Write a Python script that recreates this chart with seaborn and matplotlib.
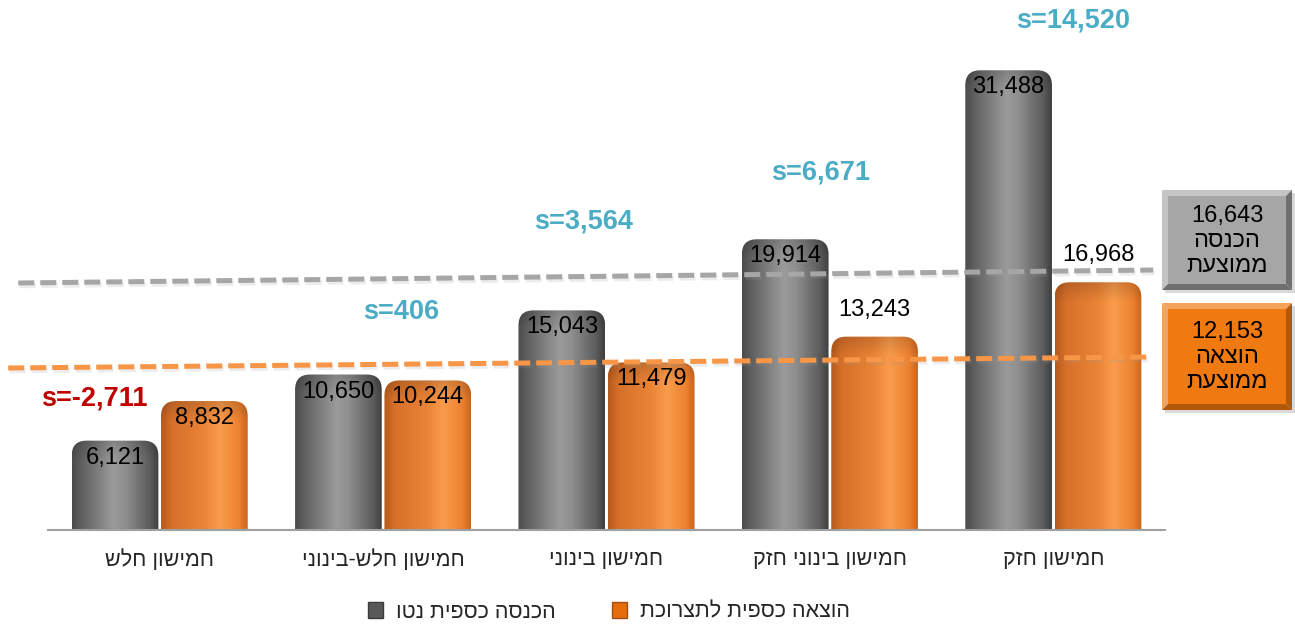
import numpy as np
import pandas as pd
import matplotlib
matplotlib.use('Agg')
import matplotlib.pyplot as plt
import seaborn as sns
from matplotlib.path import Path
from matplotlib.patches import PathPatch, Rectangle, Polygon, Patch
from matplotlib.colors import LinearSegmentedColormap
import matplotlib.patheffects as pe

# data
groups = ['חמישון חלש', 'חמישון חלש-בינוני', 'חמישון בינוני', 'חמישון בינוני חזק', 'חמישון חזק']
income = [6121, 10650, 15043, 19914, 31488]
spending = [8832, 10244, 11479, 13243, 16968]
series = ['הכנסה כספית נטו', 'הוצאה כספית לתצרוכת']
avg_income_text = ['הכנסה', 'ממוצעת']
avg_spend_text = ['הוצאה', 'ממוצעת']

# label placement (style only)
gap_label_x = [-0.294, 1.080, 1.895, 2.960, 4.088]
gap_label_y = [9040, 14930, 21100, 24520, 34930]
spend_label_outside = [False, False, False, True, True]


def heb(s):
    # matplotlib has no bidi, so write hebrew in visual order
    return s[::-1]


sns.set_style('white')
plt.rcParams['font.family'] = ['Liberation Sans', 'DejaVu Sans']

W, H = 1295, 628
fig = plt.figure(figsize=(W / 100, H / 100), dpi=100)
ax = fig.add_axes([48 / W, 98 / H, 1117 / W, 530 / H])

df = pd.DataFrame({
    'group': [heb(g) for g in groups] * 2,
    'value': income + spending,
    'series': [series[0]] * 5 + [series[1]] * 5,
})
sns.barplot(data=df, x='group', y='value', hue='series', hue_order=series,
            palette=['#666666', '#e8772a'], width=0.8, gap=0.03,
            legend=False, ax=ax)

ymax = 530 / 0.0146
ax.set_xlim(-0.5, 4.5)
ax.set_ylim(0, ymax)

# pixel -> data scale for rounded tops
px_x = 5 / 1117
px_y = ymax / 530
rx, ry = 15 * px_x, 15 * px_y

gray_cmap = LinearSegmentedColormap.from_list('g', [
    (0, '#4c4c4c'), (0.12, '#626262'), (0.48, '#9b9b9b'), (0.62, '#8e8e8e'),
    (0.9, '#5c5c5c'), (1, '#404040')])
orange_cmap = LinearSegmentedColormap.from_list('o', [
    (0, '#b65a1c'), (0.12, '#d6702a'), (0.5, '#ea8436'), (0.68, '#fa9c4c'),
    (0.9, '#ec8230'), (1, '#c9651e')])


def cyl_bar(x0, w, h, cmap):
    verts = [(x0, 0), (x0 + w, 0), (x0 + w, h - ry), (x0 + w, h), (x0 + w - rx, h),
             (x0 + rx, h), (x0, h), (x0, h - ry), (x0, 0)]
    codes = [Path.MOVETO, Path.LINETO, Path.LINETO, Path.CURVE3, Path.CURVE3,
             Path.LINETO, Path.CURVE3, Path.CURVE3, Path.CLOSEPOLY]
    clip = PathPatch(Path(verts, codes), facecolor='none', edgecolor='none')
    ax.add_patch(clip)
    cols = cmap(np.linspace(0, 1, 200))[:, :3]
    ys = np.linspace(0, h, 300)
    shade = 1 - 0.15 * np.clip((ys - (h - 1.3 * ry)) / (1.3 * ry), 0, 1)
    img = cols[None, :, :] * shade[:, None, None]
    im = ax.imshow(img, extent=[x0, x0 + w, 0, h], origin='lower',
                   aspect='auto', interpolation='bilinear', zorder=2)
    im.set_clip_path(clip)


for cont, cmap in zip(ax.containers, [gray_cmap, orange_cmap]):
    for bar in cont:
        bar.set_visible(False)
        cyl_bar(bar.get_x(), bar.get_width(), bar.get_height(), cmap)

ax.set_xlim(-0.5, 4.5)
ax.set_ylim(0, ymax)

# value labels
for i, bar in enumerate(ax.containers[0]):
    xc = bar.get_x() + bar.get_width() / 2
    ax.annotate(f'{income[i]:,}', (xc, bar.get_height()), xytext=(0, -17),
                textcoords='offset pixels', ha='center', va='center',
                fontsize=17, color='black', zorder=6)
for i, bar in enumerate(ax.containers[1]):
    xc = bar.get_x() + bar.get_width() / 2
    dy = 27 if spend_label_outside[i] else -17
    ax.annotate(f'{spending[i]:,}', (xc, bar.get_height()), xytext=(0, dy),
                textcoords='offset pixels', ha='center', va='center',
                fontsize=17, color='black', zorder=6)

# gap labels
for i in range(5):
    gap = income[i] - spending[i]
    col = '#c00000' if gap < 0 else '#4bacc6'
    ax.text(gap_label_x[i], gap_label_y[i], f's={gap:,}', ha='center', va='center',
            fontsize=19.5, fontweight='bold', color=col, zorder=6)

# average lines (slightly tilted as in the original)
mean_inc = np.mean(income)
mean_sp = np.mean(spending)
shadow = [pe.SimpleLineShadow(offset=(1, -2), shadow_color='#999999', alpha=0.18), pe.Normal()]
ax.plot([-0.633, 4.447], [mean_inc + 275, mean_inc + 1165], color='#a6a6a6', lw=3.6,
        dashes=(3.2, 1.2), dash_capstyle='butt',
        clip_on=False, zorder=5, path_effects=shadow)
ax.plot([-0.678, 4.425], [mean_sp - 1057, mean_sp - 304], color='#f79646', lw=3.6,
        dashes=(3.2, 1.2), dash_capstyle='butt',
        clip_on=False, zorder=5, path_effects=shadow)

# axes styling
for s in ['left', 'top', 'right']:
    ax.spines[s].set_visible(False)
ax.spines['bottom'].set_color('#a0a0a0')
ax.spines['bottom'].set_linewidth(1.5)
ax.set_yticks([])
ax.set_xticks(range(5))
ax.set_xticklabels([heb(g) for g in groups], fontsize=15.5)
ax.set_xticks(np.arange(-0.5, 5, 1), minor=True)
ax.tick_params(axis='x', which='major', length=0, pad=14)
ax.tick_params(axis='x', which='minor', length=7, width=1.5, color='#a0a0a0', direction='out')
ax.set_xlabel('')
ax.set_ylabel('')

# legend
handles = [Patch(facecolor='#595959', edgecolor='#3c3c3c', label=heb(series[0])),
           Patch(facecolor='#e46c0a', edgecolor='#a04d17', label=heb(series[1]))]
fig.legend(handles=handles, loc='center', bbox_to_anchor=(609 / W, 1 - 612 / H),
           ncol=2, frameon=False, fontsize=15.5, handlelength=0.7, handleheight=0.7,
           handletextpad=0.6, columnspacing=2.6)

# right side boxes with averages
ov = fig.add_axes([0, 0, 1, 1], zorder=10)
ov.set_xlim(0, W)
ov.set_ylim(H, 0)
ov.axis('off')


def bevel_box(x0, y0, w, h, face, light, dark, b=6):
    ov.add_patch(Rectangle((x0 + 3, y0 + 3), w, h, color='#000000', alpha=0.15, lw=0))
    ov.add_patch(Polygon([(x0, y0), (x0 + w, y0), (x0 + w - b, y0 + b), (x0 + b, y0 + b)], color=light, lw=0))
    ov.add_patch(Polygon([(x0, y0), (x0 + b, y0 + b), (x0 + b, y0 + h - b), (x0, y0 + h)], color=light, lw=0))
    ov.add_patch(Polygon([(x0 + w, y0), (x0 + w, y0 + h), (x0 + w - b, y0 + h - b), (x0 + w - b, y0 + b)], color=dark, lw=0))
    ov.add_patch(Polygon([(x0, y0 + h), (x0 + w, y0 + h), (x0 + w - b, y0 + h - b), (x0 + b, y0 + h - b)], color=dark, lw=0))
    ov.add_patch(Rectangle((x0 + b, y0 + b), w - 2 * b, h - 2 * b, color=face, lw=0))


bevel_box(1162, 190, 130, 100, '#a6a6a6', '#c4c4c4', '#6f6f6f')
bevel_box(1162, 303, 130, 107, '#f07a12', '#f6a35a', '#b3580a')
ov.text(1227, 241, f'{round(mean_inc):,}\n' + '\n'.join(heb(t) for t in avg_income_text),
        ha='center', va='center', fontsize=17, linespacing=1.2, color='black')
ov.text(1227, 357, f'{round(mean_sp):,}\n' + '\n'.join(heb(t) for t in avg_spend_text),
        ha='center', va='center', fontsize=17, linespacing=1.2, color='black')

fig.savefig('out.png', dpi=100)
